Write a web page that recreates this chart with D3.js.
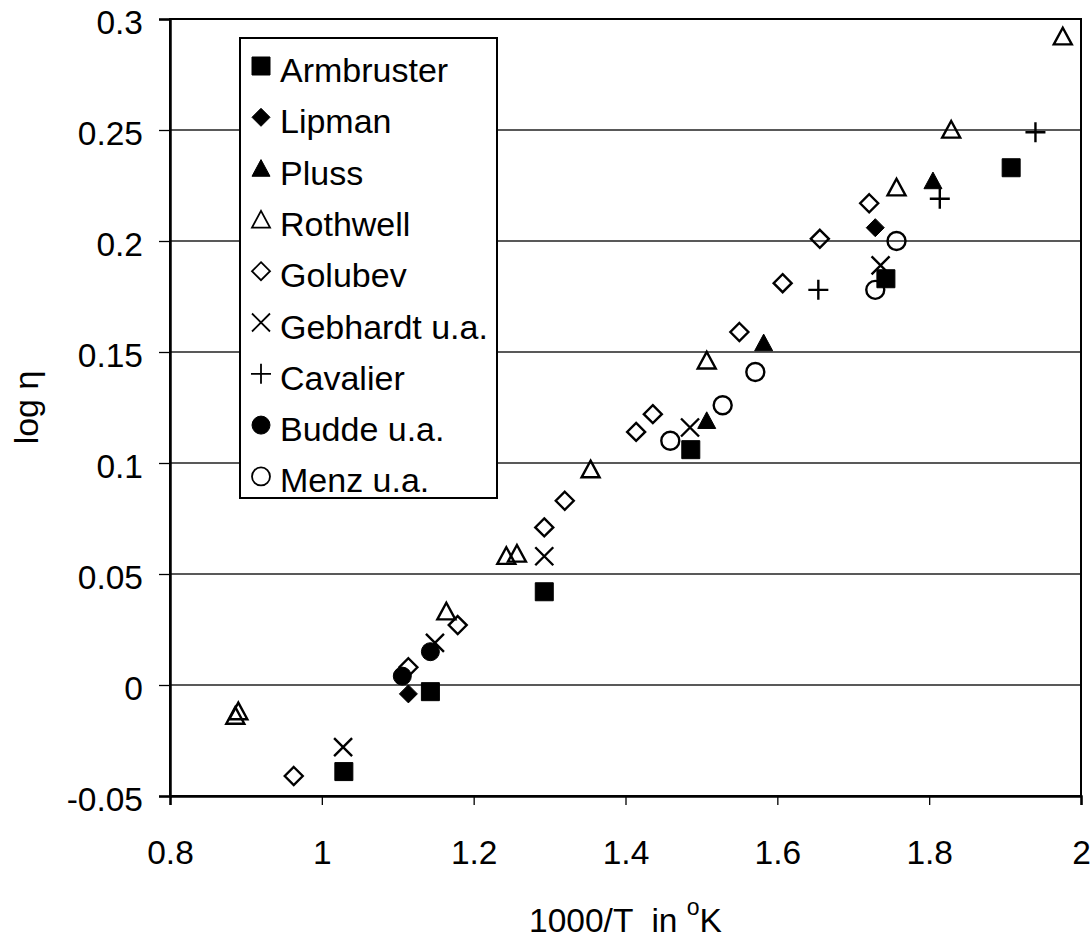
<!DOCTYPE html>
<html>
<head>
<meta charset="utf-8">
<script src="https://cdn.jsdelivr.net/npm/d3@7"></script>
<style>
  html, body { margin: 0; padding: 0; background: #fff; }
  svg { display: block; font-family: "Liberation Sans", Arial, sans-serif; }
</style>
</head>
<body>
<svg id="chart" width="1092" height="939"></svg>
<script>
// Viscosity data: log η against 1000/T, one array pair per source
const seriesNames = ["Armbruster", "Lipman", "Pluss", "Rothwell", "Golubev",
                     "Gebhardt u.a.", "Cavalier", "Budde u.a.", "Menz u.a."];

const armbrusterX = [1.029, 1.143, 1.293, 1.486, 1.743, 1.908];
const armbrusterY = [-0.039, -0.003, 0.042, 0.106, 0.183, 0.233];

const lipmanX = [1.114, 1.729];
const lipmanY = [-0.004, 0.206];

const plussX = [1.507, 1.582, 1.805];
const plussY = [0.119, 0.154, 0.227];

const rothwellX = [0.886, 0.890, 1.164, 1.243, 1.257, 1.354, 1.507, 1.757, 1.829, 1.976];
const rothwellY = [-0.014, -0.012, 0.033, 0.058, 0.059, 0.097, 0.146, 0.224, 0.250, 0.292];

const golubevX = [0.963, 1.114, 1.179, 1.293, 1.320, 1.414, 1.436, 1.550, 1.607, 1.656, 1.721];
const golubevY = [-0.041, 0.008, 0.027, 0.071, 0.083, 0.114, 0.122, 0.159, 0.181, 0.201, 0.217];

const gebhardtX = [1.028, 1.149, 1.293, 1.485, 1.736];
const gebhardtY = [-0.028, 0.019, 0.058, 0.116, 0.189];

const cavalierX = [1.654, 1.814, 1.940];
const cavalierY = [0.178, 0.219, 0.249];

const buddeX = [1.106, 1.143];
const buddeY = [0.004, 0.015];

const menzX = [1.459, 1.528, 1.571, 1.729, 1.757];
const menzY = [0.110, 0.126, 0.141, 0.178, 0.200];

const xTicks = [0.8, 1, 1.2, 1.4, 1.6, 1.8, 2];
const yTicks = [-0.05, 0, 0.05, 0.1, 0.15, 0.2, 0.25, 0.3];

// Marker shape per series
const seriesX = [armbrusterX, lipmanX, plussX, rothwellX, golubevX, gebhardtX, cavalierX, buddeX, menzX];
const seriesY = [armbrusterY, lipmanY, plussY, rothwellY, golubevY, gebhardtY, cavalierY, buddeY, menzY];
const seriesShape = ["square", "diamond", "triangle", "triangle", "diamond", "cross", "plus", "circle", "circle"];
const seriesFilled = [true, true, true, false, false, false, false, true, false];

const series = seriesNames.map((name, i) => ({
  name,
  shape: seriesShape[i],
  filled: seriesFilled[i],
  points: seriesX[i].map((x, j) => ({ x, y: seriesY[i][j] }))
}));

const W = 1092, H = 939;
const margin = { top: 19, right: 11, bottom: 143, left: 170 };

const svg = d3.select("#chart");

const x = d3.scaleLinear().domain([0.8, 2]).range([margin.left, W - margin.right]);
const y = d3.scaleLinear().domain([-0.05, 0.3]).range([H - margin.bottom, margin.top]);

// Path for each marker shape, centred on 0,0
function markerPath(shape, r) {
  const p = d3.path();
  if (shape === "square") {
    p.rect(-r, -r, 2 * r, 2 * r);
  } else if (shape === "diamond") {
    p.moveTo(0, -r); p.lineTo(r, 0); p.lineTo(0, r); p.lineTo(-r, 0); p.closePath();
  } else if (shape === "triangle") {
    p.moveTo(0, -r); p.lineTo(r, r * 0.85); p.lineTo(-r, r * 0.85); p.closePath();
  } else if (shape === "circle") {
    p.arc(0, 0, r, 0, 2 * Math.PI);
  } else if (shape === "cross") {
    p.moveTo(-r, -r); p.lineTo(r, r); p.moveTo(r, -r); p.lineTo(-r, r);
  } else if (shape === "plus") {
    p.moveTo(-r - 1, 0); p.lineTo(r + 1, 0); p.moveTo(0, -r - 1); p.lineTo(0, r + 1);
  }
  return p.toString();
}

function styleMarker(sel, s, strokeW) {
  const lineOnly = s.shape === "cross" || s.shape === "plus";
  sel.attr("fill", s.filled ? "#000" : "none")
     .attr("stroke", "#000")
     .attr("stroke-width", s.filled ? 1 : strokeW)
     .attr("stroke-linejoin", "miter");
  if (lineOnly) sel.attr("fill", "none");
}

// Horizontal gridlines
svg.append("g")
  .selectAll("line")
  .data(yTicks.filter(v => v > -0.05 && v < 0.3))
  .join("line")
  .attr("x1", x(0.8)).attr("x2", x(2))
  .attr("y1", d => y(d)).attr("y2", d => y(d))
  .attr("stroke", "#222").attr("stroke-width", 1.3);

// Plot frame
svg.append("rect")
  .attr("x", x(0.8)).attr("y", y(0.3))
  .attr("width", x(2) - x(0.8)).attr("height", y(-0.05) - y(0.3))
  .attr("fill", "none").attr("stroke", "#000").attr("stroke-width", 2);

// Axes
const xAxis = svg.append("g")
  .attr("transform", `translate(0,${y(-0.05)})`)
  .call(d3.axisBottom(x).tickValues(xTicks).tickFormat(v => String(v)).tickSize(9).tickPadding(35));
const yAxis = svg.append("g")
  .attr("transform", `translate(${x(0.8)},0)`)
  .call(d3.axisLeft(y).tickValues(yTicks).tickFormat(v => String(v)).tickSize(11).tickPadding(16));

[xAxis, yAxis].forEach(g => {
  g.select(".domain").attr("stroke", "#000").attr("stroke-width", 2.5);
  g.selectAll(".tick line").attr("stroke", "#000").attr("stroke-width", 1.3);
  g.selectAll(".tick text").attr("fill", "#000").attr("font-size", 33.5)
    .attr("font-family", "'Liberation Sans', Arial, sans-serif");
});
yAxis.selectAll(".tick text").attr("dy", "0.42em");

// Data markers
series.forEach(s => {
  svg.append("g")
    .selectAll("path")
    .data(s.points)
    .join("path")
    .attr("d", markerPath(s.shape, 9))
    .attr("transform", d => `translate(${x(d.x)},${y(d.y)})`)
    .call(styleMarker, s, 2.4);
});

// Legend
const legend = svg.append("g");
legend.append("rect")
  .attr("x", 240).attr("y", 38).attr("width", 257).attr("height", 460)
  .attr("fill", "#fff").attr("stroke", "#000").attr("stroke-width", 2);

const rowH = 51.3;
series.forEach((s, i) => {
  const base = 82 + i * rowH;
  legend.append("path")
    .attr("d", markerPath(s.shape, 9))
    .attr("transform", `translate(261,${base - 16})`)
    .call(styleMarker, s, 1.8);
  legend.append("text")
    .attr("x", 280).attr("y", base)
    .attr("font-size", 34).attr("fill", "#000")
    .text(s.name);
});

// Axis titles
const xTitle = svg.append("text")
  .attr("x", (x(0.8) + x(2)) / 2).attr("y", 932)
  .attr("text-anchor", "middle").attr("font-size", 33.5)
  .style("white-space", "pre");
xTitle.append("tspan").text("1000/T  in ");
xTitle.append("tspan").attr("font-size", 23).attr("dy", -17).text("o");
xTitle.append("tspan").attr("dy", 17).text("K");

svg.append("text")
  .attr("transform", `translate(38,${(y(-0.05) + y(0.3)) / 2}) rotate(-90)`)
  .attr("text-anchor", "middle").attr("font-size", 34)
  .text("log η");
</script>
</body>
</html>
